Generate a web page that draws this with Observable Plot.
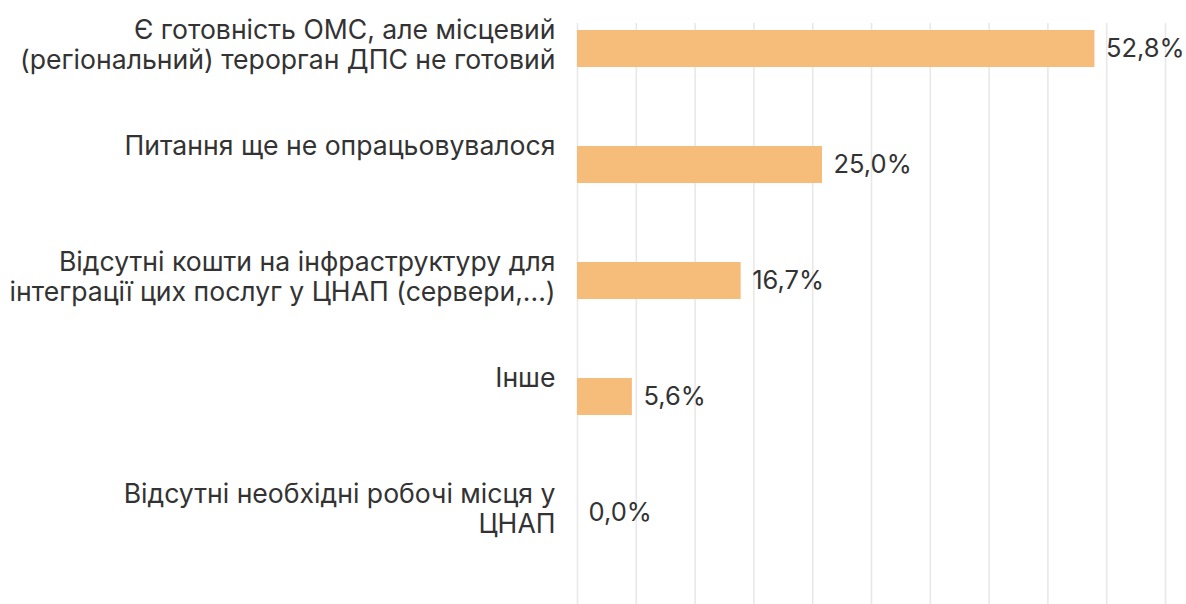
<!DOCTYPE html>
<html>
<head>
<meta charset="utf-8">
<script src="https://cdn.jsdelivr.net/npm/d3@7"></script>
<script src="https://cdn.jsdelivr.net/npm/@observablehq/plot@0.6"></script>
<style>
  html, body { margin: 0; padding: 0; background: #fff; }
  #chart svg { display: block; }
</style>
</head>
<body>
<div id="chart"></div>
<script>
const categories = [
  "Є готовність ОМС, але місцевий\n(регіональний) терорган ДПС не готовий",
  "Питання ще не опрацьовувалося",
  "Відсутні кошти на інфраструктуру для\nінтеграції цих послуг у ЦНАП (сервери,...)",
  "Інше",
  "Відсутні необхідні робочі місця у\nЦНАП"
];
const values = [52.8, 25.0, 16.7, 5.6, 0.0];
const xTicks = [0, 6, 12, 18, 24, 30, 36, 42, 48, 54, 60];

const data = categories.map((c, i) => ({category: c, value: values[i]}));
const fmt = v => d3.format(".1f")(v).replace(".", ",") + "%";

const chart = Plot.plot({
  width: 1186,
  height: 604,
  marginLeft: 577,
  marginRight: 21,
  marginTop: 23,
  marginBottom: 0,
  style: {fontFamily: "Inter, sans-serif", color: "#333", background: "#fff"},
  x: {domain: [0, 60], axis: null},
  y: {domain: categories, axis: null, paddingInner: 0.683, paddingOuter: 0.331, align: 0.09},
  marks: [
    Plot.ruleX(xTicks, {stroke: "#e8e8e8", strokeWidth: 1.6}),
    Plot.barX(data, {x: "value", y: "category", fill: "#f6bc7a"}),
    Plot.text(data, {
      x: "value", y: "category", text: d => fmt(d.value),
      textAnchor: "start", dx: 11, fontSize: 25.5, fill: "#333"
    }),
    Plot.text(data, {
      x: 0, y: "category", text: "category",
      textAnchor: "end", lineAnchor: "top", dx: -22, dy: -31.6,
      lineHeight: 1.13, fontSize: 26.6, fill: "#333"
    })
  ]
});
document.getElementById("chart").append(chart);
</script>
</body>
</html>
